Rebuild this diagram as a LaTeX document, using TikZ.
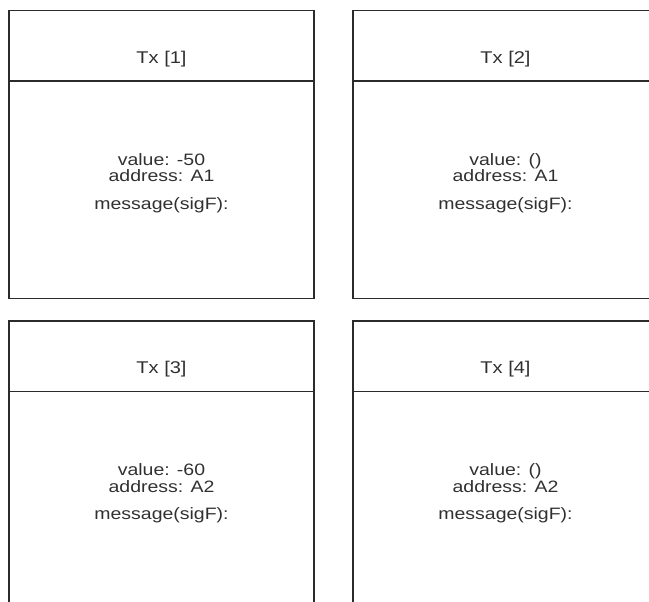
\documentclass[tikz,border=0pt]{standalone}
\usepackage{fontspec}
\setmainfont[FakeStretch=1.18]{Liberation Sans}
\definecolor{linec}{HTML}{2B2B2B}
\definecolor{textc}{HTML}{303030}
\begin{document}
\begin{tikzpicture}[x=1pt,y=-1pt,
  txbox/.style={draw=linec,line width=1.3pt,minimum width=305pt,minimum height=288pt,inner sep=0pt,outer sep=0pt},
  ttl/.style={text=textc,font=\fontsize{17}{16.5}\selectfont,inner sep=0pt},
  body/.style={text=textc,font=\fontsize{16.5}{16.5}\selectfont,align=center,inner sep=0pt}]
\useasboundingbox (0,0) rectangle (649,602);
\clip (0,0) rectangle (649,602);
\foreach \n/\x/\y/\v/\a in {1/9/10.5/-50/A1, 2/353/10.5/()/A1, 3/9/321/-60/A2, 4/353/321/()/A2}{
  \node[txbox,anchor=north west] (box\n) at (\x,\y) {};
  \draw[linec,line width=1.3pt] ([yshift=-70.5pt]box\n.north west) coordinate (dl\n) -- ([yshift=-70.5pt]box\n.north east) coordinate (dr\n);
  \node[ttl] (title\n) at ([yshift=-48.5pt]box\n.north) {Tx [\n]};
  \node[body] (body\n) at ([yshift=-172.5pt]box\n.north) {value: \v\\address: \a\\[11pt]message(sigF):};
}
\end{tikzpicture}
\end{document}
